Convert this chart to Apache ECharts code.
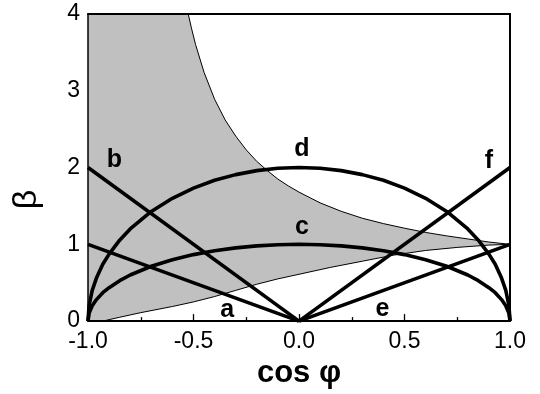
<!DOCTYPE html>
<html>
<head>
<meta charset="utf-8">
<script src="https://cdn.jsdelivr.net/npm/echarts@6/dist/echarts.min.js"></script>
<style>
html,body{margin:0;padding:0;background:#fff;}
#chart{width:540px;height:394px;}
</style>
</head>
<body>
<div id="chart"></div>
<script>
// ---- data ----
var xTickValues = [-1.0, -0.5, 0.0, 0.5, 1.0];
var xTickLabels = ['-1.0', '-0.5', '0.0', '0.5', '1.0'];
var yTickLabels = ['0', '1', '2', '3', '4'];

// curve a, b, e, f (straight lines)
var curveA = [[-1.0, 1.0], [0.0, 0.0]];
var curveB = [[-1.0, 2.0], [0.0, 0.0]];
var curveE = [[0.0, 0.0], [1.0, 1.0]];
var curveF = [[0.0, 0.0], [1.0, 2.0]];

// arc x positions and heights (c: peak 1, d: peak 2)
var arcX = [-1.0, -0.995, -0.98, -0.96, -0.93, -0.9, -0.85, -0.8, -0.7, -0.6, -0.5, -0.4, -0.3, -0.2, -0.1, 0.0,
            0.1, 0.2, 0.3, 0.4, 0.5, 0.6, 0.7, 0.8, 0.85, 0.9, 0.93, 0.96, 0.98, 0.995, 1.0];
var curveC = [0.0, 0.10, 0.20, 0.28, 0.37, 0.436, 0.527, 0.60, 0.714, 0.80, 0.866, 0.917, 0.954, 0.98, 0.995, 1.0,
              0.995, 0.98, 0.954, 0.917, 0.866, 0.80, 0.714, 0.60, 0.527, 0.436, 0.37, 0.28, 0.20, 0.10, 0.0];
var curveD = [0.0, 0.20, 0.40, 0.56, 0.74, 0.872, 1.054, 1.20, 1.428, 1.60, 1.732, 1.834, 1.908, 1.96, 1.99, 2.0,
              1.99, 1.96, 1.908, 1.834, 1.732, 1.60, 1.428, 1.20, 1.054, 0.872, 0.74, 0.56, 0.40, 0.20, 0.0];

// shaded region boundaries
var upperBound = [[-0.525, 4.0], [-0.51, 3.82], [-0.49, 3.60], [-0.45, 3.24], [-0.4, 2.89], [-0.35, 2.62],
                  [-0.3, 2.41], [-0.25, 2.23], [-0.2, 2.08], [-0.15, 1.96], [-0.1, 1.85], [-0.05, 1.76],
                  [0.0, 1.68], [0.1, 1.54], [0.2, 1.43], [0.3, 1.34], [0.4, 1.27], [0.5, 1.21],
                  [0.6, 1.155], [0.7, 1.11], [0.8, 1.07], [0.9, 1.03], [1.0, 1.0]];
var lowerBound = [[-0.93, 0.0], [-0.85, 0.05], [-0.75, 0.11], [-0.6, 0.19], [-0.5, 0.25], [-0.4, 0.32],
                  [-0.3, 0.40], [-0.2, 0.48], [-0.1, 0.55], [0.0, 0.61], [0.15, 0.70], [0.3, 0.78],
                  [0.45, 0.86], [0.6, 0.92], [0.75, 0.96], [0.9, 0.99], [1.0, 1.0]];

// curve labels
var labelNames = ['a', 'b', 'c', 'd', 'e', 'f'];
var labelPos = [[-0.34, 0.14], [-0.875, 2.1], [0.014, 1.22], [0.014, 2.24], [0.395, 0.16], [0.9, 2.08]];

// ---- chart ----
var zip = function (xs, ys) { return xs.map(function (x, i) { return [x, ys[i]]; }); };
var polygonPts = [[-1.0, 4.0], [-1.0, 0.0]].concat(lowerBound).concat(upperBound.slice().reverse());

var FONT = '"Liberation Sans", Arial, sans-serif';
var thick = { color: '#000', width: 3.6 };

var chart = echarts.init(document.getElementById('chart'), null, { renderer: 'canvas' });
chart.setOption({
  animation: false,
  backgroundColor: '#fff',
  grid: { left: 88, right: 30, top: 14, bottom: 68, show: false },
  xAxis: [{
    type: 'value', min: -1, max: 1, interval: 0.5, z: 10,
    name: 'cos \u03c6', nameLocation: 'middle', nameGap: 31,
    nameTextStyle: { fontFamily: FONT, fontSize: 31, fontWeight: 'bold', color: '#000' },
    axisLine: { show: true, onZero: false, lineStyle: { color: '#000', width: 2 } },
    axisTick: { show: true, inside: true, length: 7, lineStyle: { color: '#000', width: 1.3 } },
    minorTick: { show: true, splitNumber: 2, length: 4, lineStyle: { color: '#000', width: 1.3 } },
    splitLine: { show: false },
    axisLabel: {
      margin: 9, fontFamily: FONT, fontSize: 23, color: '#000',
      formatter: function (v) {
        for (var i = 0; i < xTickValues.length; i++) { if (Math.abs(v - xTickValues[i]) < 1e-9) return xTickLabels[i]; }
        return '';
      }
    }
  }, {
    type: 'value', min: -1, max: 1, position: 'top', z: 10,
    axisLine: { show: true, onZero: false, lineStyle: { color: '#000', width: 2 } },
    axisTick: { show: false }, axisLabel: { show: false }, splitLine: { show: false }
  }],
  yAxis: [{
    type: 'value', min: 0, max: 4, interval: 1, z: 10,
    name: '\u03b2', nameLocation: 'middle', nameGap: 44,
    nameTextStyle: { fontFamily: FONT, fontSize: 34, color: '#000', padding: [0, 0, 0, -64] },
    axisLine: { show: true, onZero: false, lineStyle: { color: '#000', width: 1.5 } },
    axisTick: { show: false },
    splitLine: { show: false },
    axisLabel: {
      margin: 8, fontFamily: FONT, fontSize: 23, color: '#000',
      formatter: function (v) { return yTickLabels[Math.round(v)]; }
    }
  }, {
    type: 'value', min: 0, max: 4, position: 'right', z: 10,
    axisLine: { show: true, onZero: false, lineStyle: { color: '#000', width: 2 } },
    axisTick: { show: false }, axisLabel: { show: false }, splitLine: { show: false }
  }],
  series: [
    {
      type: 'custom', z: 1, silent: true, clip: true,
      data: [[0, 0]],
      renderItem: function (params, api) {
        var pts = polygonPts.map(function (p) { return api.coord(p); });
        return { type: 'polygon', shape: { points: pts }, style: { fill: '#c0c0c0', stroke: null } };
      }
    },
    { type: 'line', z: 2, data: upperBound, symbol: 'none', lineStyle: { color: '#000', width: 1 } },
    { type: 'line', z: 2, data: lowerBound, symbol: 'none', lineStyle: { color: '#000', width: 1 } },
    { type: 'line', z: 3, data: curveA, symbol: 'none', lineStyle: thick },
    { type: 'line', z: 3, data: curveB, symbol: 'none', lineStyle: thick },
    { type: 'line', z: 3, data: curveE, symbol: 'none', lineStyle: thick },
    { type: 'line', z: 3, data: curveF, symbol: 'none', lineStyle: thick },
    { type: 'line', z: 3, data: zip(arcX, curveC), symbol: 'none', lineStyle: thick },
    { type: 'line', z: 3, data: zip(arcX, curveD), symbol: 'none', lineStyle: thick },
    {
      type: 'scatter', z: 4, symbolSize: 1, silent: true,
      itemStyle: { color: 'rgba(0,0,0,0)', opacity: 1 },
      data: labelPos.map(function (p, i) { return { value: p, name: labelNames[i] }; }),
      label: {
        show: true, position: 'inside', formatter: '{b}', opacity: 1,
        fontFamily: FONT, fontSize: 25, fontWeight: 'bold', color: '#000',
        textBorderWidth: 0
      }
    }
  ]
});
</script>
</body>
</html>
